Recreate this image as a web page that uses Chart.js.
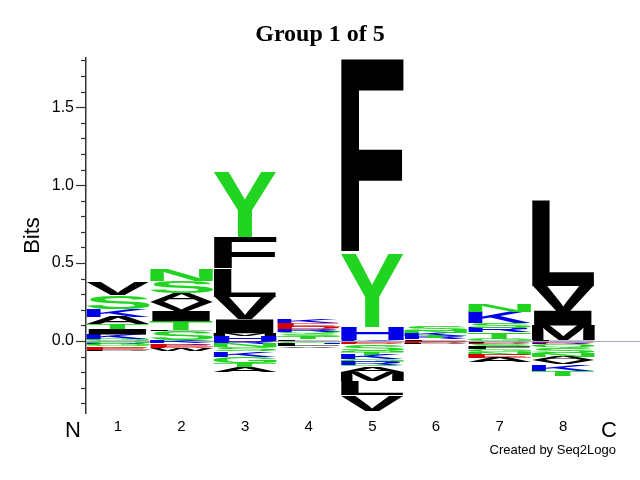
<!DOCTYPE html>
<html>
<head>
<meta charset="utf-8">
<title>Group 1 of 5</title>
<script src="https://cdn.jsdelivr.net/npm/chart.js@4"></script>
<style>
  html, body { margin: 0; padding: 0; background: #fff; }
</style>
</head>
<body>
<canvas id="myChart" width="640" height="480"></canvas>
<script>
var chartTitle = 'Group 1 of 5';
var positions = ['1', '2', '3', '4', '5', '6', '7', '8'];

// letters stacked up from 0, bottom first, with their heights in bits
var upLetters = ['GKITAKSV', 'GSLTIVASN', 'HMIVLFY', 'LTSQRDEK', 'KHYF', 'LRTKNS', 'GTRSKN', 'FMIVL'];
var upBits = [
	[0.012, 0.03, 0.035, 0.035, 0.045, 0.05, 0.085, 0.08],
	[0.006, 0.055, 0.01, 0.055, 0.067, 0.058, 0.058, 0.077, 0.071],
	[0.035, 0.015, 0.09, 0.145, 0.18, 0.2, 0.42],
	[0.01, 0.015, 0.02, 0.015, 0.015, 0.015, 0.025, 0.025],
	[0.005, 0.085, 0.47, 1.25],
	[0.01, 0.012, 0.012, 0.02, 0.012, 0.03],
	[0.015, 0.04, 0.03, 0.03, 0.07, 0.05],
	[0.005, 0.095, 0.095, 0.16, 0.55]
];

// letters stacked down from 0, nearest to zero first
var downLetters = ['NRGQEP', 'KREDW', 'ERNSKGTA', 'GHLV', 'EDSNTKGRQAMLV', 'EDP', 'PDSFGNEA', 'ERQSNAVKT'];
var downBits = [
	[0.01, 0.01, 0.015, 0.01, 0.012, 0.01],
	[0.015, 0.01, 0.012, 0.01, 0.015],
	[0.008, 0.012, 0.02, 0.025, 0.035, 0.04, 0.025, 0.035],
	[0.01, 0.01, 0.015, 0.01],
	[0.01, 0.008, 0.045, 0.01, 0.015, 0.03, 0.015, 0.02, 0.01, 0.035, 0.06, 0.09, 0.1],
	[0.008, 0.006, 0.008],
	[0.01, 0.01, 0.02, 0.012, 0.02, 0.015, 0.02, 0.03],
	[0.01, 0.01, 0.025, 0.03, 0.025, 0.025, 0.025, 0.04, 0.035]
];

var yMin = -0.462, yMax = 1.816;

var colorOf = function(ch) {
	if ('DE'.indexOf(ch) >= 0) return '#d40000';
	if ('KRH'.indexOf(ch) >= 0) return '#0000e6';
	if ('GSTYCQN'.indexOf(ch) >= 0) return '#22d422';
	return '#000000';
};

// one dataset per stack slot, so the library stacks them for us
var datasets = [];
var makeSlots = function(letters, bits, sign) {
	var n = 0;
	letters.forEach(function(s) { n = Math.max(n, s.length); });
	for (var k = 0; k < n; k++) {
		var vals = [], chars = [];
		for (var i = 0; i < positions.length; i++) {
			if (k < letters[i].length) {
				vals.push(sign * bits[i][k]);
				chars.push(letters[i].charAt(k));
			} else {
				vals.push(null);
				chars.push('');
			}
		}
		datasets.push({
			data: vals,
			letters: chars,
			backgroundColor: 'rgba(0,0,0,0)',
			borderWidth: 0,
			barPercentage: 1,
			categoryPercentage: 1
		});
	}
};
makeSlots(upLetters, upBits, 1);
makeSlots(downLetters, downBits, -1);

var drawLetter = function(ctx, ch, left, top, w, h) {
	if (w <= 0 || h <= 0.2) return;
	ctx.save();
	ctx.font = 'bold 100px "Liberation Sans", Arial, sans-serif';
	ctx.textAlign = 'left';
	ctx.textBaseline = 'alphabetic';
	var m = ctx.measureText(ch);
	var gl = -m.actualBoundingBoxLeft, gr = m.actualBoundingBoxRight;
	var gt = -m.actualBoundingBoxAscent, gb = m.actualBoundingBoxDescent;
	ctx.translate(left, top);
	ctx.scale(w / (gr - gl), h / (gb - gt));
	ctx.fillStyle = colorOf(ch);
	ctx.fillText(ch, -gl, -gt);
	ctx.restore();
};

var isHalf = function(v) {
	return Math.abs(v * 2 - Math.round(v * 2)) < 1e-6;
};

var logoPlugin = {
	id: 'logo',
	beforeDatasetsDraw: function(chart) {
		var ctx = chart.ctx;
		var y0 = Math.round(chart.scales.y.getPixelForValue(0)) + 0.5;
		ctx.save();
		ctx.strokeStyle = '#a9a6bd';
		ctx.lineWidth = 1;
		ctx.beginPath();
		ctx.moveTo(chart.chartArea.left, y0);
		ctx.lineTo(chart.width, y0);
		ctx.stroke();
		ctx.restore();
	},
	afterDatasetsDraw: function(chart) {
		var ctx = chart.ctx;
		chart.data.datasets.forEach(function(ds, di) {
			var meta = chart.getDatasetMeta(di);
			meta.data.forEach(function(bar, i) {
				if (ds.data[i] == null || !ds.letters[i]) return;
				var p = bar.getProps(['x', 'y', 'base', 'width'], true);
				var top = Math.min(p.y, p.base);
				drawLetter(ctx, ds.letters[i], p.x - p.width / 2, top, p.width, Math.abs(p.base - p.y));
			});
		});
	},
	afterDraw: function(chart) {
		var ctx = chart.ctx;
		var ys = chart.scales.y;
		var left = chart.chartArea.left;
		ctx.save();
		ctx.strokeStyle = '#333';
		ctx.lineWidth = 1.2;
		ys.ticks.forEach(function(t) {
			var py = Math.round(ys.getPixelForValue(t.value)) + 0.5;
			var len = isHalf(t.value) ? 10 : 5;
			ctx.beginPath();
			ctx.moveTo(left - len, py);
			ctx.lineTo(left, py);
			ctx.stroke();
		});
		ctx.fillStyle = '#000';
		ctx.textBaseline = 'alphabetic';
		ctx.textAlign = 'center';
		// title is centred on the whole picture, not on the plot
		ctx.font = 'bold 24px "Liberation Serif", "Times New Roman", serif';
		ctx.fillText(chartTitle, 320, 41);
		ctx.font = '22px "Liberation Sans", Arial, sans-serif';
		ctx.fillText('N', 73, 437);
		ctx.fillText('C', 609, 437);
		ctx.textAlign = 'right';
		ctx.font = '13px "Liberation Sans", Arial, sans-serif';
		ctx.fillText('Created by Seq2Logo', 616, 454);
		ctx.restore();
	}
};

var config = {
	type: 'bar',
	data: {
		labels: positions,
		datasets: datasets
	},
	options: {
		responsive: false,
		animation: false,
		events: [],
		layout: { padding: { left: 0, top: 58, right: 45, bottom: 0 } },
		plugins: {
			legend: { display: false },
			tooltip: { enabled: false },
			title: { display: false }
		},
		scales: {
			x: {
				type: 'category',
				stacked: true,
				offset: true,
				grid: { display: false, drawTicks: false },
				border: { display: false },
				ticks: {
					color: '#000',
					padding: 5,
					autoSkip: false,
					maxRotation: 0,
					font: { family: '"Liberation Sans", Arial, sans-serif', size: 15 }
				},
				afterFit: function(s) { s.height = 67; }
			},
			y: {
				type: 'linear',
				stacked: true,
				min: yMin,
				max: yMax,
				grid: { display: false, drawTicks: false },
				border: { display: true, color: '#333', width: 1.5 },
				ticks: {
					stepSize: 0.1,
					includeBounds: false,
					autoSkip: false,
					color: '#000',
					padding: 12,
					font: { family: '"Liberation Sans", Arial, sans-serif', size: 16 },
					callback: function(v) { return isHalf(v) ? v.toFixed(1) : ''; }
				},
				title: {
					display: true,
					text: 'Bits',
					color: '#000',
					font: { family: '"Liberation Sans", Arial, sans-serif', size: 22 },
					padding: { top: 20, bottom: 0 }
				},
				afterFit: function(s) { s.width = 86; }
			}
		}
	},
	plugins: [logoPlugin]
};

window.onload = function() {
	var ctx = document.getElementById('myChart').getContext('2d');
	window.myLogo = new Chart(ctx, config);
};
</script>
</body>
</html>
